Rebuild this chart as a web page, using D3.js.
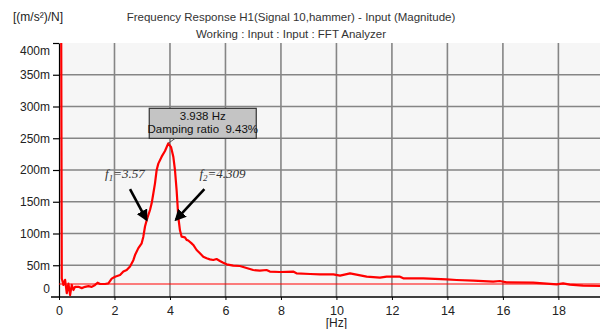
<!DOCTYPE html>
<html>
<head>
<meta charset="utf-8">
<script src="https://cdn.jsdelivr.net/npm/d3@7"></script>
<style>
  body { margin: 0; background: #fff; }
  svg text { font-family: "Liberation Sans", Arial, sans-serif; fill: #222; }
</style>
</head>
<body>
<svg id="frf"></svg>
<script>
// ---------- data (magnitude in m(m/s²)/N) ----------
var freq = [
  0.07, 0.10, 0.16, 0.22, 0.28, 0.34, 0.40, 0.46, 0.52, 0.58,
  0.70, 0.82, 0.94, 1.06, 1.18, 1.30, 1.39, 1.48, 1.66, 1.78,
  1.90, 2.02, 2.20, 2.32, 2.44, 2.56, 2.68, 2.74, 2.86, 2.98,
  3.04, 3.10, 3.16, 3.28, 3.34, 3.40, 3.46, 3.52, 3.58, 3.70,
  3.82, 3.938, 4.04, 4.12, 4.18, 4.24, 4.30, 4.36, 4.42, 4.54,
  4.60, 4.66, 4.78, 4.84, 4.96, 5.08, 5.20, 5.32, 5.44, 5.56,
  5.68, 5.80, 5.92, 6.04, 6.28, 6.52, 6.76, 7.00, 7.24, 7.48,
  7.60, 7.96, 8.44, 8.56, 9.05, 9.41, 9.89, 10.13, 10.49, 11.09,
  11.57, 11.81, 12.29, 12.41, 13.13, 13.97, 14.33, 14.93, 15.65, 15.89,
  16.13, 17.09, 17.94, 18.17, 18.41, 18.89, 19.5
];
var mag = [
  600, 29, 19, 27, 6, 21, 3, 19, 11, 16,
  16, 14, 16, 17, 16, 19, 22.5, 20.5, 20.5, 21.5,
  29, 32, 34.6, 40, 42.5, 48, 58, 66, 77, 84.5,
  95, 111, 121, 137, 147.5, 163, 179, 200, 210, 221,
  230, 242, 236, 221, 200, 168, 126, 105, 95, 94,
  90, 89, 84.5, 82, 74, 69, 63.5, 61, 59.3, 58.3,
  59.8, 56.7, 54, 51.5, 49.4, 48.8, 45.7, 42.5, 41.4, 42.5,
  40, 39.4, 40, 37.3, 36.2, 35.7, 35.7, 33.6, 37.3, 32,
  30.4, 32, 32, 29.4, 29.4, 27.8, 26.8, 25.7, 24.1, 25.2,
  23.1, 22.5, 20, 21.5, 19.4, 17.8, 17.3
];
var xTicks = [0, 2, 4, 6, 8, 10, 12, 14, 16, 18];
var yTicks = [0, 50, 100, 150, 200, 250, 300, 350, 400];
var refLevel = 20.5;
var peak = { f: 3.938, v: 242, label: ['3.938 Hz', 'Damping ratio  9.43%'] };
var halfPower = [
  { name: '1', text: '=3.57', at: [1.66, 187], tip: [3.15, 122], tail: [2.56, 170] },
  { name: '2', text: '=4.309', at: [5.06, 187], tip: [4.22, 122], tail: [5.24, 170] }
];
var titleLines = ['Frequency Response H1(Signal 10,hammer) - Input (Magnitude)',
                  'Working : Input : Input : FFT Analyzer'];

var width = 605, height = 329,
    padL = 59, padR = 600, padT = 43, padB = 297;

var svg = d3.select('svg#frf')
    .attr('width', width)
    .attr('height', height);

var x = d3.scaleLinear().domain([0, 19.5]).range([padL, padR]);
var y = d3.scaleLinear().domain([0, 400]).range([padB, padT]);

//----------plot background + grid----------
svg.append('rect')
    .attr('x', padL).attr('y', padT)
    .attr('width', padR - padL).attr('height', padB - padT)
    .attr('fill', '#f6f6f6');

svg.append('g')
  .selectAll('line')
  .data(xTicks.filter(d => d > 0))
  .join('line')
    .attr('x1', d => x(d)).attr('x2', d => x(d))
    .attr('y1', padT).attr('y2', padB)
    .attr('stroke', '#858585').attr('stroke-width', 1.6);

svg.append('g')
  .selectAll('line')
  .data(yTicks.filter(d => d > 0 && d < 400))
  .join('line')
    .attr('x1', padL).attr('x2', padR)
    .attr('y1', d => y(d)).attr('y2', d => y(d))
    .attr('stroke', '#858585').attr('stroke-width', 1.6);

//----------axes----------
var fmtY = d => d === 0 ? '0' : d + 'm';
var yAxis = svg.append('g')
    .attr('transform', 'translate(' + padL + ',0)')
    .call(d3.axisLeft(y).tickValues(yTicks).tickFormat(fmtY).tickSize(6).tickSizeOuter(0).tickPadding(3));
yAxis.selectAll('text')
    .style('font-size', '12px')
    .attr('dy', d => d === 400 ? '0.95em' : d === 0 ? '-0.35em' : '0.32em');
yAxis.select('.domain').attr('stroke', '#000').attr('stroke-width', 1.2);
yAxis.selectAll('.tick line').attr('stroke', '#000').attr('stroke-width', 1.2);
yAxis.selectAll('.tick').filter(d => d === 0).select('line').remove();

var xAxis = svg.append('g')
    .attr('transform', 'translate(0,' + padB + ')')
    .call(d3.axisBottom(x).tickValues(xTicks).tickSize(3).tickSizeOuter(0).tickPadding(6));
xAxis.select('.domain').attr('d', 'M' + (padL - 8) + ',0H' + padR)
    .attr('stroke', '#000').attr('stroke-width', 1.4);
xAxis.selectAll('.tick line').attr('stroke', '#000');
xAxis.selectAll('text').style('font-size', '12.5px');

svg.append('text')
    .attr('x', x(10)).attr('y', 327)
    .attr('text-anchor', 'middle')
    .style('font-size', '12px')
    .text('[Hz]');

svg.append('text')
    .attr('x', 13).attr('y', 21)
    .style('font-size', '12px')
    .text('[(m/s²)/N]');

svg.selectAll('text.title')
  .data(titleLines)
  .join('text')
    .classed('title', true)
    .attr('x', 291).attr('y', (d, i) => 21 + i * 17)
    .attr('text-anchor', 'middle')
    .style('font-size', '11.5px')
    .style('fill', '#333')
    .text(d => d);

//----------reference level + response curve----------
svg.append('clipPath').attr('id', 'plotclip')
  .append('rect')
    .attr('x', padL).attr('y', padT)
    .attr('width', padR - padL).attr('height', padB - padT);

svg.append('line')
    .attr('x1', padL).attr('x2', padR)
    .attr('y1', y(refLevel)).attr('y2', y(refLevel))
    .attr('stroke', '#ff0000').attr('stroke-width', 1.2);

var line = d3.line()
    .x(d => x(d[0]))
    .y(d => y(d[1]));

svg.append('path')
    .datum(d3.zip(freq, mag))
    .attr('clip-path', 'url(#plotclip)')
    .attr('fill', 'none')
    .attr('stroke', '#ff0000')
    .attr('stroke-width', 2.2)
    .attr('stroke-linejoin', 'round')
    .attr('d', line);

//----------peak marker box----------
var px = x(peak.f), py = y(peak.v);
var box = svg.append('g').attr('transform', 'translate(' + (px - 19) + ',' + (py - 35) + ')');
svg.append('line')
    .attr('x1', px).attr('y1', py)
    .attr('x2', px + 7).attr('y2', py - 5)
    .attr('stroke', '#555').attr('stroke-width', 1);
box.append('rect')
    .attr('width', 107).attr('height', 30)
    .attr('fill', '#c4c4c4')
    .attr('stroke', '#333').attr('stroke-width', 1.2);
box.selectAll('text')
  .data(peak.label)
  .join('text')
    .attr('x', 53.5).attr('y', (d, i) => 12 + i * 13)
    .attr('text-anchor', 'middle')
    .style('font-size', '11.5px')
    .style('white-space', 'pre')
    .style('fill', '#111')
    .text(d => d);

//----------half power arrows----------
svg.append('defs').append('marker')
    .attr('id', 'head')
    .attr('viewBox', '0 0 10 10')
    .attr('refX', 8).attr('refY', 5)
    .attr('markerWidth', 4.5).attr('markerHeight', 4.5)
    .attr('orient', 'auto')
  .append('path')
    .attr('d', 'M0,0L10,5L0,10Z')
    .attr('fill', '#000');

svg.selectAll('line.arrow')
  .data(halfPower)
  .join('line')
    .classed('arrow', true)
    .attr('x1', d => x(d.tail[0])).attr('y1', d => y(d.tail[1]))
    .attr('x2', d => x(d.tip[0])).attr('y2', d => y(d.tip[1]))
    .attr('stroke', '#000').attr('stroke-width', 2.6)
    .attr('marker-end', 'url(#head)');

var lab = svg.selectAll('text.fl')
  .data(halfPower)
  .join('text')
    .classed('fl', true)
    .attr('x', d => x(d.at[0])).attr('y', d => y(d.at[1]))
    .style('font-family', '"Liberation Serif", "Times New Roman", serif')
    .style('font-style', 'italic')
    .style('font-size', '13px')
    .style('fill', '#333');
lab.append('tspan').text('f');
lab.append('tspan').attr('dy', 3).style('font-size', '9px').text(d => d.name);
lab.append('tspan').attr('dy', -3).text(d => d.text);
</script>
</body>
</html>
